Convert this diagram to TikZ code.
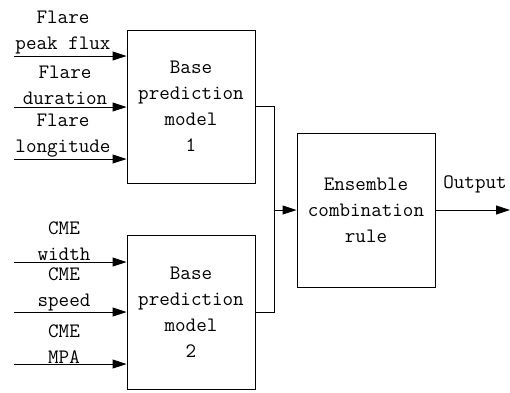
\documentclass[tikz,border=0pt]{standalone}
\usepackage{tikz}
\usetikzlibrary{positioning,calc,arrows.meta}
\tikzset{
    modelbox/.style={rectangle, draw=black, line width=0.9pt, align=center, inner sep=0pt},
    inlabel/.style={anchor=south, align=center, inner sep=0pt},
    flowline/.style={draw=black, line width=0.9pt},
    inarrow/.style={flowline, -{Triangle[length=14pt,width=9pt]}}
}
\begin{document}
\begin{tikzpicture}[x=1pt, y=1pt,
                font=\ttfamily\fontsize{20.5}{26}\selectfont
            ]
                \useasboundingbox (0,0) rectangle (510,-392);
                % boxes
                \node[modelbox, minimum width=128pt, minimum height=153pt] (base1) at (191,-106.5)
                    {Base\\prediction\\model\\1};
                \node[modelbox, minimum width=128pt, minimum height=154pt] (base2) at (191,-312)
                    {Base\\prediction\\model\\2};
                \node[modelbox, minimum width=138pt, minimum height=154pt] (ens) at (366,-210)
                    {Ensemble\\combination\\rule};
                % inputs of model 1
                \coordinate (f1) at (14,-56);
                \coordinate (f2) at (14,-107);
                \coordinate (f3) at (14,-159);
                \draw[inarrow] (f1) -- (f1 -| base1.west);
                \draw[inarrow] (f2) -- (f2 -| base1.west);
                \draw[inarrow] (f3) -- (f3 -| base1.west);
                \node[inlabel] (lf1) at (63,-54) {Flare\\peak flux};
                \node[inlabel] (lf2) at (65,-105) {Flare\\duration};
                \node[inlabel] (lf3) at (63,-157) {Flare\\longitude};
                % inputs of model 2
                \coordinate (c1) at (14,-262);
                \coordinate (c2) at (14,-312);
                \coordinate (c3) at (14,-364);
                \draw[inarrow] (c1) -- (c1 -| base2.west);
                \draw[inarrow] (c2) -- (c2 -| base2.west);
                \draw[inarrow] (c3) -- (c3 -| base2.west);
                \node[inlabel] (lc1) at (64,-261) {CME\\width};
                \node[inlabel] (lc2) at (64,-311) {CME\\speed};
                \node[inlabel] (lc3) at (64,-364) {CME\\MPA};
                % combination
                \coordinate (junc) at (274,-210);
                \draw[flowline] (base1.east) -| (junc);
                \draw[flowline] (base2.east) -| (junc);
                \draw[inarrow] (junc) -- (ens.west);
                \coordinate (out) at (510,-210);
                \draw[inarrow] (ens.east) -- (out);
                \node[inlabel] (lout) at (475,-193) {Output};
            \end{tikzpicture}
\end{document}
